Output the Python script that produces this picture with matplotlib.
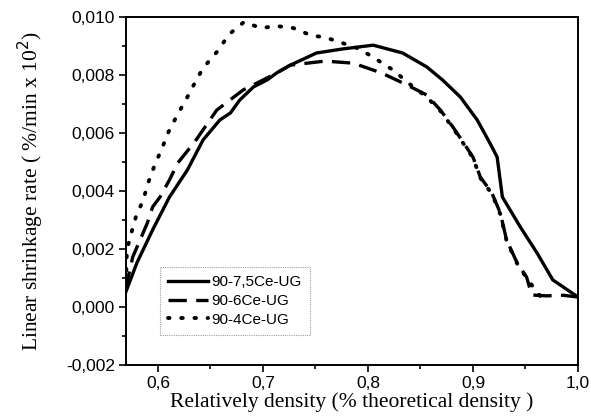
import numpy as np
import matplotlib.pyplot as plt
from matplotlib.ticker import MultipleLocator, FuncFormatter

# 90-7,5Ce-UG (solid)
x_75 = [0.5695, 0.580, 0.595, 0.611, 0.628, 0.643, 0.659, 0.669, 0.678, 0.691,
        0.704, 0.713, 0.726, 0.751, 0.776, 0.805, 0.833, 0.856, 0.871, 0.888,
        0.904, 0.916, 0.923, 0.928, 0.945, 0.961, 0.976, 1.0]
y_75 = [0.00052, 0.00152, 0.00266, 0.00379, 0.00472, 0.00576, 0.00645, 0.00669,
        0.00714, 0.00759, 0.00783, 0.00807, 0.00834, 0.00876, 0.00890, 0.00903,
        0.00876, 0.00828, 0.00783, 0.00724, 0.00645, 0.00566, 0.00517, 0.00379,
        0.00276, 0.00186, 0.00093, 0.00034]

# 90-6Ce-UG (dashed)
x_6 = [0.5695, 0.5705, 0.576, 0.583, 0.590, 0.595, 0.602, 0.611, 0.619, 0.635,
       0.656, 0.681, 0.704, 0.713, 0.726, 0.759, 0.786, 0.813, 0.837, 0.856,
       0.869, 0.881, 0.891, 0.900, 0.907, 0.918, 0.926, 0.932, 0.942, 0.951,
       0.956, 0.970, 0.986, 1.0]
y_6 = [0.00060, 0.00083, 0.00172, 0.00231, 0.00290, 0.00345, 0.00379, 0.00438,
       0.00497, 0.00569, 0.00679, 0.00748, 0.00790, 0.00807, 0.00834, 0.00848,
       0.00841, 0.00807, 0.00766, 0.00731, 0.00679, 0.00620, 0.00566, 0.00517,
       0.00448, 0.00393, 0.00324, 0.00231, 0.00152, 0.00103, 0.00041, 0.00038,
       0.00040, 0.00034]

# 90-4Ce-UG (dotted)
x_4 = [0.5695, 0.5705, 0.575, 0.579, 0.586, 0.591, 0.597, 0.604, 0.610, 0.618,
       0.627, 0.635, 0.643, 0.656, 0.668, 0.682, 0.698, 0.713, 0.729, 0.745,
       0.761, 0.776, 0.792, 0.809, 0.824, 0.843, 0.856, 0.869, 0.881, 0.891,
       0.900, 0.907, 0.918, 0.926, 0.932, 0.942, 0.951, 0.961, 0.971]
y_4 = [0.00080, 0.00197, 0.00259, 0.00310, 0.00369, 0.00431, 0.00490, 0.00548,
       0.00603, 0.00659, 0.00717, 0.00772, 0.00824, 0.00879, 0.00941, 0.00983,
       0.00962, 0.00969, 0.00962, 0.00938, 0.00928, 0.00910, 0.00890, 0.00852,
       0.00817, 0.00759, 0.00724, 0.00676, 0.00617, 0.00563, 0.00514, 0.00445,
       0.00390, 0.00320, 0.00228, 0.00150, 0.00100, 0.00050, 0.00010]

labels = ['90-7,5Ce-UG', '90-6Ce-UG', '90-4Ce-UG']

fig = plt.figure(figsize=(5.91, 4.16), dpi=100)
ax = fig.add_axes([0.213, 0.123, 0.765, 0.836])

ax.plot(x_75, y_75, color='black', lw=2.4, ls='-', label=labels[0])
ax.plot(x_6, y_6, color='black', lw=2.4, ls=(0, (5.5, 2.8)), label=labels[1])
ax.plot(x_4, y_4, color='black', lw=2.8, ls=(0, (0.4, 3.0)),
        dash_capstyle='round', label=labels[2])

ax.set_xlim(0.5695, 1.0)
ax.set_ylim(-0.002, 0.010)
ax.xaxis.set_major_locator(MultipleLocator(0.1))
ax.xaxis.set_minor_locator(MultipleLocator(0.05))
ax.yaxis.set_major_locator(MultipleLocator(0.002))
ax.yaxis.set_minor_locator(MultipleLocator(0.001))

ax.xaxis.set_major_formatter(FuncFormatter(lambda v, p: f'{v:.1f}'.replace('.', ',')))
ax.yaxis.set_major_formatter(FuncFormatter(
    lambda v, p: f'{v:.3f}'.replace('.', ',').replace('-0,000', '0,000')))

ax.tick_params(which='both', direction='out', top=False, right=False,
               width=1.2, labelsize=12.5, pad=3)
ax.tick_params(which='major', length=5)
ax.tick_params(which='minor', length=3)
for lab in ax.get_xticklabels() + ax.get_yticklabels():
    lab.set_family('Liberation Sans')
for s in ax.spines.values():
    s.set_linewidth(1.4)

ax.set_xlabel('Relatively density (% theoretical density )',
              family='Liberation Serif', fontsize=15.5, labelpad=1)
ax.set_ylabel('Linear shrinkage rate ( %/min x 10$^2$)',
              family='Liberation Serif', fontsize=15.5, labelpad=14)

leg = ax.legend(loc='lower left', bbox_to_anchor=(0.075, 0.086),
                prop={'family': 'Liberation Sans', 'size': 11},
                fancybox=False, edgecolor='#888888', handlelength=2.6,
                handletextpad=0.25, labelspacing=0.3, borderpad=0.55,
                borderaxespad=0)
leg.get_frame().set_linewidth(0.8)
leg.get_frame().set_linestyle((0, (1, 1)))

fig.savefig('out.png', dpi=100)
